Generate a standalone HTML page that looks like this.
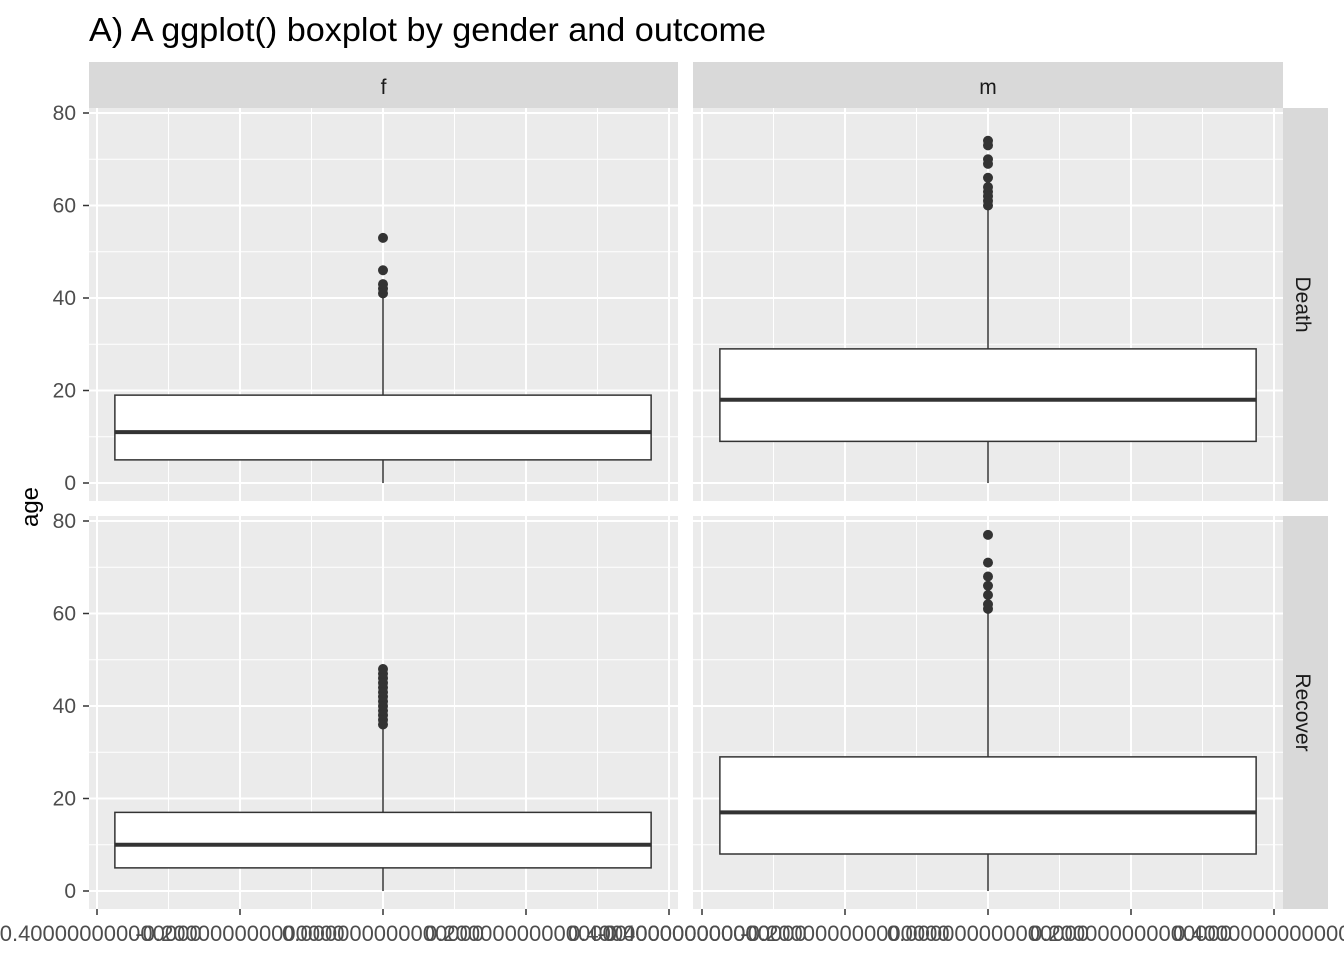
<!DOCTYPE html>
<html><head><meta charset="utf-8"><style>
body{margin:0;background:#fff;}
svg text{font-family:"Liberation Sans",Arial,sans-serif;}
</style></head><body>
<svg id="chart" width="1344" height="960" xmlns="http://www.w3.org/2000/svg">
<text x="89" y="41" font-size="33" textLength="677" lengthAdjust="spacingAndGlyphs" fill="#000">A) A ggplot() boxplot by gender and outcome</text>
<text transform="translate(38,507) rotate(-90)" font-size="24" text-anchor="middle" fill="#000">age</text>
<g id="plot"></g>
</svg>
<script>
const genders = ["f","m"];
const outcomes = ["Death","Recover"];
const q1 = [[5,9],[5,8]];
const medians = [[11,18],[10,17]];
const q3 = [[19,29],[17,29]];
const whiskLo = [[0,0],[0,0]];
const whiskHi = [[41,60],[36,61]];
const outliers = [
  [[41,42,43,46,53],[60,61,62,63,64,66,69,70,73,74]],
  [[36,37,38,39,40,41,42,43,44,45,46,47,48],[61,62,64,66,68,71,77]]
];
const yTicks = [0,20,40,60,80];
const xTicks = [-0.4,-0.2,0,0.2,0.4];
const xTickLabels = ["-0.400000000000000","-0.200000000000000","0.000000000000000","0.200000000000000","0.400000000000000"];

const NS="http://www.w3.org/2000/svg";
const g=document.getElementById('plot');
function mk(tag,attrs,parent){const e=document.createElementNS(NS,tag);for(const k in attrs)e.setAttribute(k,attrs[k]);(parent||g).appendChild(e);return e;}
const panelX=[[89,678],[693,1283]];
const panelY=[[108,501],[516,909]];
function xs(c,v){return [383,988][c]+v*715;}
function ys(r,v){return [483,891][r]-v*4.625;}

for(let c=0;c<2;c++){
  const s=mk('rect',{x:panelX[c][0],y:62,width:panelX[c][1]-panelX[c][0],height:46,fill:'#d9d9d9'});
  
  
  const t=mk('text',{x:(panelX[c][0]+panelX[c][1])/2,y:94,'font-size':21,'text-anchor':'middle',fill:'#1a1a1a'});
  t.textContent=genders[c];
  
  
}
for(let r=0;r<2;r++){
  const s=mk('rect',{x:1283,y:panelY[r][0],width:45,height:panelY[r][1]-panelY[r][0],fill:'#d9d9d9'});
  
  
  const cy=(panelY[r][0]+panelY[r][1])/2;
  const t=mk('text',{transform:`translate(1296,${cy}) rotate(90)`,'font-size':21,'text-anchor':'middle',fill:'#1a1a1a'});
  t.textContent=outcomes[r];
  
  
}
for(let r=0;r<2;r++)for(let c=0;c<2;c++){
  const x0=panelX[c][0],x1=panelX[c][1],y0=panelY[r][0],y1=panelY[r][1];
  const bg=mk('rect',{x:x0,y:y0,width:x1-x0,height:y1-y0,fill:'#ebebeb'});
  
  
  for(let i=0;i<yTicks.length-1;i++){const v=(yTicks[i]+yTicks[i+1])/2;mk('line',{x1:x0,x2:x1,y1:ys(r,v),y2:ys(r,v),stroke:'#fff','stroke-width':1});}
  for(let i=0;i<xTicks.length-1;i++){const v=(xTicks[i]+xTicks[i+1])/2;mk('line',{x1:xs(c,v),x2:xs(c,v),y1:y0,y2:y1,stroke:'#fff','stroke-width':1});}
  yTicks.forEach(v=>mk('line',{x1:x0,x2:x1,y1:ys(r,v),y2:ys(r,v),stroke:'#fff','stroke-width':2}));
  xTicks.forEach(v=>mk('line',{x1:xs(c,v),x2:xs(c,v),y1:y0,y2:y1,stroke:'#fff','stroke-width':2}));
  const cx=xs(c,0);
  mk('line',{x1:cx,x2:cx,y1:ys(r,whiskLo[r][c]),y2:ys(r,q1[r][c]),stroke:'#333','stroke-width':1.5});
  mk('line',{x1:cx,x2:cx,y1:ys(r,q3[r][c]),y2:ys(r,whiskHi[r][c]),stroke:'#333','stroke-width':1.5});
  const b=mk('rect',{x:xs(c,-0.375),y:ys(r,q3[r][c]),width:xs(c,0.375)-xs(c,-0.375),height:ys(r,q1[r][c])-ys(r,q3[r][c]),fill:'#fff',stroke:'#333','stroke-width':1.5});
  
  
  mk('line',{x1:xs(c,-0.375),x2:xs(c,0.375),y1:ys(r,medians[r][c]),y2:ys(r,medians[r][c]),stroke:'#333','stroke-width':4});
  outliers[r][c].forEach(v=>{
    const p=mk('circle',{cx:cx,cy:ys(r,v),r:5,fill:'#333'});
    
    
  });
}
for(let r=0;r<2;r++){
  yTicks.forEach(v=>{
    mk('line',{x1:83,x2:89,y1:ys(r,v),y2:ys(r,v),stroke:'#333','stroke-width':1.5});
    const t=mk('text',{x:76,y:ys(r,v)+7,'font-size':21,'text-anchor':'end',fill:'#4d4d4d'});
    t.textContent=v;
    
    
  });
}
for(let c=0;c<2;c++){
  xTicks.forEach((v,i)=>{
    mk('line',{x1:xs(c,v),x2:xs(c,v),y1:909,y2:915,stroke:'#333','stroke-width':1.5});
    const t=mk('text',{x:xs(c,v),y:941,'font-size':22,'text-anchor':'middle',fill:'#4d4d4d'});
    t.textContent=xTickLabels[i];
    
    
  });
}
</script>
</body></html>
